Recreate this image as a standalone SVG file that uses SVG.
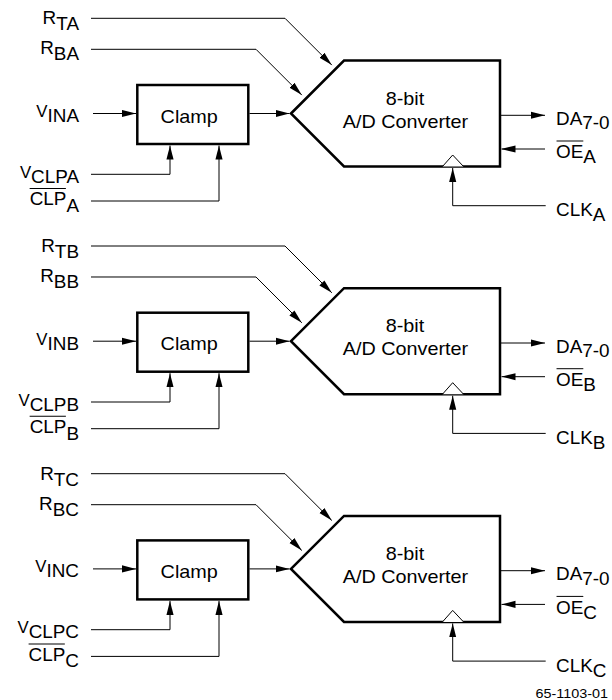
<svg xmlns="http://www.w3.org/2000/svg" width="612" height="700" viewBox="0 0 612 700">
<style>
text{font-family:"Liberation Sans",Arial,sans-serif;fill:#000}
.lbl{font-size:18px}
.v{font-size:16px}
.node{font-size:18px}
.box{fill:#fff;stroke:#000;stroke-width:2.5;stroke-linejoin:miter}
.wire{fill:none;stroke:#000;stroke-width:1}
.clk{fill:#fff;stroke:#000;stroke-width:1}
.ovl{stroke:#000;stroke-width:1}
</style>
<defs>
<marker id="arr" markerUnits="userSpaceOnUse" markerWidth="14" markerHeight="8" viewBox="0 0 13 6.6" refX="13" refY="3.3" orient="auto">
<path d="M0,0 L13,3.3 L0,6.6 Z" fill="#000"/>
</marker>
</defs>
<rect width="612" height="700" fill="#fff"/>

<!-- Block A -->
<g id="blockA">
<g id="connectorsA">
<polyline class="wire" points="91,18.3 285,18.3 331.8,65.1" marker-end="url(#arr)"/>
<polyline class="wire" points="91,49.3 256,49.3 301.8,95.1" marker-end="url(#arr)"/>
<polyline class="wire" points="93,113.5 136,113.5" marker-end="url(#arr)"/>
<polyline class="wire" points="249.5,113.5 289.5,113.5" marker-end="url(#arr)"/>
<polyline class="wire" points="91,174.3 170,174.3 170,145.5" marker-end="url(#arr)"/>
<polyline class="wire" points="91,201 219,201 219,145.5" marker-end="url(#arr)"/>
<polyline class="wire" points="501,115.3 545,115.3" marker-end="url(#arr)"/>
<polyline class="wire" points="545,149 501.5,149" marker-end="url(#arr)"/>
<polyline class="wire" points="545.7,205.7 452.7,205.7 452.7,168" marker-end="url(#arr)"/>
</g>
<g id="clampA">
<rect class="box" x="137.3" y="85" width="111" height="59"/>
<text class="node" text-anchor="middle" transform="translate(189.2,122.5) scale(1.1,1)">Clamp</text>
</g>
<g id="adcA">
<path class="box" d="M291,113.5 L344,60.5 L500,60.5 L500,166.5 L344,166.5 Z"/>
<polyline class="clk" points="442.5,166.5 452.7,155 463.5,166.5"/>
<text class="node" text-anchor="middle" transform="translate(405,104.5) scale(1.1,1)">8-bit</text>
<text class="node" text-anchor="middle" transform="translate(405.5,127.5) scale(1.1,1)">A/D Converter</text>
</g>
<g id="labelsA_left" transform="translate(79,0) scale(1.05,1)">
<text class="lbl" x="0" y="24.5" text-anchor="end">R<tspan dy="6">TA</tspan></text>
<text class="lbl" x="0" y="54.5" text-anchor="end">R<tspan dy="6">BA</tspan></text>
<text class="lbl" x="0" y="117" text-anchor="end"><tspan class="v">V</tspan><tspan dy="5">INA</tspan></text>
<text class="lbl" x="0" y="178" text-anchor="end"><tspan class="v">V</tspan><tspan dy="5">CLPA</tspan></text>
<text class="lbl" x="0" y="205.5" text-anchor="end">CLP<tspan dy="6.5">A</tspan></text>
<line class="ovl" x1="-47" y1="188.5" x2="-12.5" y2="188.5"/>
</g>
<g id="labelsA_right" transform="translate(556,0) scale(1.05,1)">
<text class="lbl" x="0" y="125">DA<tspan dy="4.5">7-0</tspan></text>
<text class="lbl" x="0" y="158.5">OE<tspan dy="5">A</tspan></text>
<line class="ovl" x1="0.5" y1="141" x2="26" y2="141"/>
<text class="lbl" x="0" y="216.5">CLK<tspan dy="5">A</tspan></text>
</g>
</g>

<!-- Block B -->
<g id="blockB" transform="translate(0,227.7)">
<g id="connectorsB">
<polyline class="wire" points="91,18.3 285,18.3 331.8,65.1" marker-end="url(#arr)"/>
<polyline class="wire" points="91,49.3 256,49.3 301.8,95.1" marker-end="url(#arr)"/>
<polyline class="wire" points="93,113.5 136,113.5" marker-end="url(#arr)"/>
<polyline class="wire" points="249.5,113.5 289.5,113.5" marker-end="url(#arr)"/>
<polyline class="wire" points="91,174.3 170,174.3 170,145.5" marker-end="url(#arr)"/>
<polyline class="wire" points="91,201 219,201 219,145.5" marker-end="url(#arr)"/>
<polyline class="wire" points="501,115.3 545,115.3" marker-end="url(#arr)"/>
<polyline class="wire" points="545,149 501.5,149" marker-end="url(#arr)"/>
<polyline class="wire" points="545.7,205.7 452.7,205.7 452.7,168" marker-end="url(#arr)"/>
</g>
<g id="clampB">
<rect class="box" x="137.3" y="85" width="111" height="59"/>
<text class="node" text-anchor="middle" transform="translate(189.2,122.5) scale(1.1,1)">Clamp</text>
</g>
<g id="adcB">
<path class="box" d="M291,113.5 L344,60.5 L500,60.5 L500,166.5 L344,166.5 Z"/>
<polyline class="clk" points="442.5,166.5 452.7,155 463.5,166.5"/>
<text class="node" text-anchor="middle" transform="translate(405,104.5) scale(1.1,1)">8-bit</text>
<text class="node" text-anchor="middle" transform="translate(405.5,127.5) scale(1.1,1)">A/D Converter</text>
</g>
<g id="labelsB_left" transform="translate(79,0) scale(1.05,1)">
<text class="lbl" x="0" y="24.5" text-anchor="end">R<tspan dy="6">TB</tspan></text>
<text class="lbl" x="0" y="54.5" text-anchor="end">R<tspan dy="6">BB</tspan></text>
<text class="lbl" x="0" y="117" text-anchor="end"><tspan class="v">V</tspan><tspan dy="5">INB</tspan></text>
<text class="lbl" x="0" y="178" text-anchor="end"><tspan class="v">V</tspan><tspan dy="5">CLPB</tspan></text>
<text class="lbl" x="0" y="205.5" text-anchor="end">CLP<tspan dy="6.5">B</tspan></text>
<line class="ovl" x1="-47" y1="188.5" x2="-12.5" y2="188.5"/>
</g>
<g id="labelsB_right" transform="translate(556,0) scale(1.05,1)">
<text class="lbl" x="0" y="125">DA<tspan dy="4.5">7-0</tspan></text>
<text class="lbl" x="0" y="158.5">OE<tspan dy="5">B</tspan></text>
<line class="ovl" x1="0.5" y1="141" x2="26" y2="141"/>
<text class="lbl" x="0" y="216.5">CLK<tspan dy="5">B</tspan></text>
</g>
</g>

<!-- Block C -->
<g id="blockC" transform="translate(0,455.4)">
<g id="connectorsC">
<polyline class="wire" points="91,18.3 285,18.3 331.8,65.1" marker-end="url(#arr)"/>
<polyline class="wire" points="91,49.3 256,49.3 301.8,95.1" marker-end="url(#arr)"/>
<polyline class="wire" points="93,113.5 136,113.5" marker-end="url(#arr)"/>
<polyline class="wire" points="249.5,113.5 289.5,113.5" marker-end="url(#arr)"/>
<polyline class="wire" points="91,174.3 170,174.3 170,145.5" marker-end="url(#arr)"/>
<polyline class="wire" points="91,201 219,201 219,145.5" marker-end="url(#arr)"/>
<polyline class="wire" points="501,115.3 545,115.3" marker-end="url(#arr)"/>
<polyline class="wire" points="545,149 501.5,149" marker-end="url(#arr)"/>
<polyline class="wire" points="545.7,205.7 452.7,205.7 452.7,168" marker-end="url(#arr)"/>
</g>
<g id="clampC">
<rect class="box" x="137.3" y="85" width="111" height="59"/>
<text class="node" text-anchor="middle" transform="translate(189.2,122.5) scale(1.1,1)">Clamp</text>
</g>
<g id="adcC">
<path class="box" d="M291,113.5 L344,60.5 L500,60.5 L500,166.5 L344,166.5 Z"/>
<polyline class="clk" points="442.5,166.5 452.7,155 463.5,166.5"/>
<text class="node" text-anchor="middle" transform="translate(405,104.5) scale(1.1,1)">8-bit</text>
<text class="node" text-anchor="middle" transform="translate(405.5,127.5) scale(1.1,1)">A/D Converter</text>
</g>
<g id="labelsC_left" transform="translate(79,0) scale(1.05,1)">
<text class="lbl" x="0" y="24.5" text-anchor="end">R<tspan dy="6">TC</tspan></text>
<text class="lbl" x="0" y="54.5" text-anchor="end">R<tspan dy="6">BC</tspan></text>
<text class="lbl" x="0" y="117" text-anchor="end"><tspan class="v">V</tspan><tspan dy="5">INC</tspan></text>
<text class="lbl" x="0" y="178" text-anchor="end"><tspan class="v">V</tspan><tspan dy="5">CLPC</tspan></text>
<text class="lbl" x="0" y="205.5" text-anchor="end">CLP<tspan dy="6.5">C</tspan></text>
<line class="ovl" x1="-48" y1="188.5" x2="-13.5" y2="188.5"/>
</g>
<g id="labelsC_right" transform="translate(556,0) scale(1.05,1)">
<text class="lbl" x="0" y="125">DA<tspan dy="4.5">7-0</tspan></text>
<text class="lbl" x="0" y="158.5">OE<tspan dy="5">C</tspan></text>
<line class="ovl" x1="0.5" y1="141" x2="26" y2="141"/>
<text class="lbl" x="0" y="216.5">CLK<tspan dy="5">C</tspan></text>
</g>
</g>

<text id="figno" font-size="12" text-anchor="end" transform="translate(608,698) scale(1.2,1)">65-1103-01</text>
</svg>
